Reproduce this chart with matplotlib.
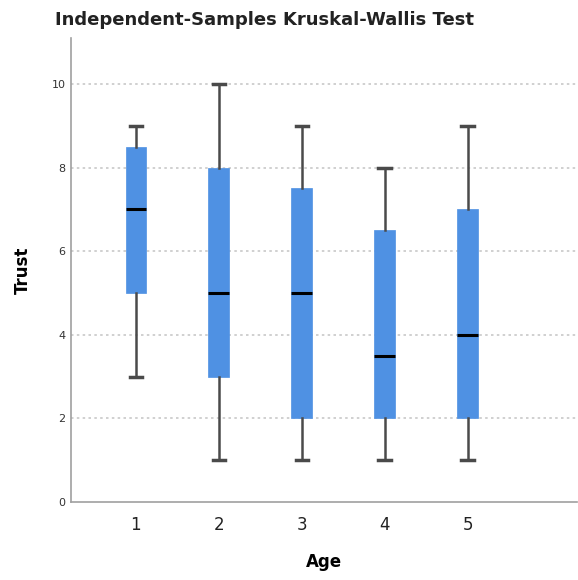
import matplotlib
matplotlib.use("Agg")
import matplotlib.pyplot as plt

# --- data ---
ages = ["1", "2", "3", "4", "5"]
whisker_low = [3, 1, 1, 1, 1]
q1 = [5, 3, 2, 2, 2]
medians = [7, 5, 5, 3.5, 4]
q3 = [8.5, 8, 7.5, 6.5, 7]
whisker_high = [9, 10, 9, 8, 9]
y_ticks = [0, 2, 4, 6, 8, 10]

BOX_BLUE = "#4f91e3"
WHISKER = "#4a4a4a"
GRID = "#c8c8c8"
SPINE = "#a0a0a0"

fig = plt.figure(figsize=(5.78, 5.8), dpi=100)
ax = fig.add_axes([71 / 578, 78 / 580, (577 - 71) / 578, (502 - 38) / 580])

stats = []
for i in range(len(ages)):
    stats.append({"whislo": whisker_low[i], "q1": q1[i], "med": medians[i],
                  "q3": q3[i], "whishi": whisker_high[i], "fliers": [],
                  "label": ages[i]})

ax.bxp(stats, positions=range(1, len(ages) + 1), widths=0.25,
       patch_artist=True, showfliers=False,
       boxprops=dict(facecolor=BOX_BLUE, edgecolor=BOX_BLUE, linewidth=0.5),
       medianprops=dict(color="black", linewidth=2.2, solid_capstyle="butt"),
       whiskerprops=dict(color=WHISKER, linewidth=1.8),
       capprops=dict(color=WHISKER, linewidth=2.5),
       capwidths=0.15)

ax.set_xlim(0.217, 6.32)
ax.set_ylim(0, 11.1)
ax.set_yticks(y_ticks)
ax.set_yticklabels([str(t) for t in y_ticks])
for t in y_ticks[1:]:
    ax.axhline(t, color=GRID, linestyle=(0, (1.5, 2)), linewidth=1.2, zorder=0)

ax.spines[["top", "right"]].set_visible(False)
ax.spines[["left", "bottom"]].set_color(SPINE)
ax.spines[["left", "bottom"]].set_linewidth(1.2)
ax.tick_params(axis="y", length=0, labelsize=8, colors="#333333", pad=4)
ax.tick_params(axis="x", length=0, labelsize=12, colors="#222222", pad=10)

ax.set_xlabel("Age", fontsize=12, fontweight="bold", labelpad=14)
ax.set_ylabel("Trust", fontsize=12, fontweight="bold", labelpad=14)

fig.text(55 / 578, 1 - 20 / 580, "Independent-Samples Kruskal-Wallis Test",
         fontsize=13, fontweight="bold", va="center", ha="left", color="#222222")

fig.savefig("out.png", dpi=100)
